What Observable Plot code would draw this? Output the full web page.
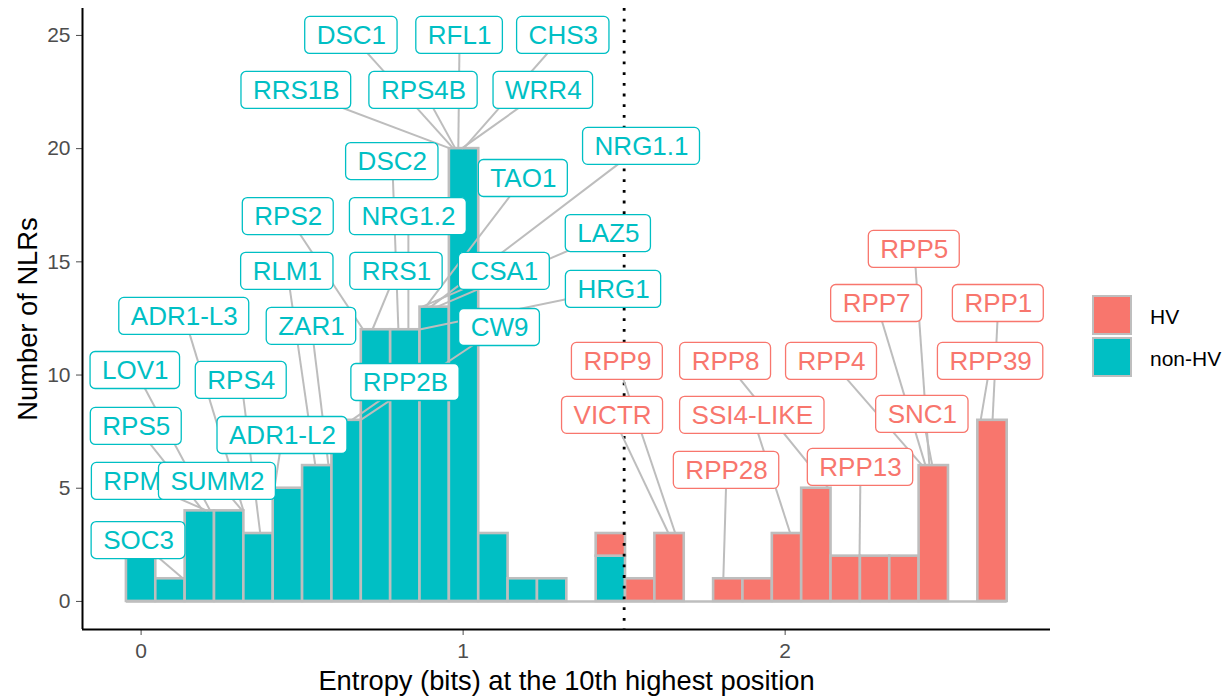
<!DOCTYPE html>
<html>
<head>
<meta charset="utf-8">
<script src="https://cdn.jsdelivr.net/npm/d3@7"></script>
<script src="https://cdn.jsdelivr.net/npm/@observablehq/plot@0.6"></script>
<style>
  body { margin: 0; background: #ffffff; }
  #wrap { position: relative; width: 1230px; height: 698px; font-family: "Liberation Sans", Arial, sans-serif; }
  .key { position: absolute; left: 1092px; width: 36px; height: 36px; border: 2.5px solid #bebebe; }
  .ktext { position: absolute; left: 1150px; font-size: 21px; line-height: 21px; color: #000; }
</style>
</head>
<body>
<div id="wrap"></div>
<script>
// ---------------- data ----------------
const groups = ["HV", "non-HV"];
const groupColors = ["#F8766D", "#00BFC4"];

const binStart = -0.0456;   // left edge of first histogram bin (bits)
const binWidth = 0.09117;   // histogram bin width (bits)
const nonHVCounts = [2, 1, 4, 4, 3, 5, 6, 8, 12, 12, 13, 20, 3, 1, 1, 0, 2, 0, 0, 0, 0, 0, 0, 0, 0, 0, 0, 0, 0, 0];
const hvCounts    = [0, 0, 0, 0, 0, 0, 0, 0, 0, 0, 0, 0, 0, 0, 0, 0, 1, 1, 3, 0, 1, 1, 3, 5, 2, 2, 2, 6, 0, 8];

const hvThreshold = 1.5;
const xTicks = [0, 1, 2];
const yTicks = [0, 5, 10, 15, 20, 25];

const geneNames = ["SOC3","RPM1","SUMM2","RPS5","LOV1","ADR1-L3","RPS4","ADR1-L2","ZAR1","RLM1","RPS2","RRS1","RPP2B","CW9","DSC2","NRG1.2","HRG1","CSA1","TAO1","NRG1.1","LAZ5","RRS1B","RPS4B","WRR4","DSC1","RFL1","CHS3",
  "VICTR","RPP9","RPP28","SSI4-LIKE","RPP8","RPP13","SNC1","RPP4","RPP7","RPP5","RPP39","RPP1"];
const geneGroup = ["non-HV","non-HV","non-HV","non-HV","non-HV","non-HV","non-HV","non-HV","non-HV","non-HV","non-HV","non-HV","non-HV","non-HV","non-HV","non-HV","non-HV","non-HV","non-HV","non-HV","non-HV","non-HV","non-HV","non-HV","non-HV","non-HV","non-HV",
  "HV","HV","HV","HV","HV","HV","HV","HV","HV","HV","HV","HV"];
// entropy of each gene and the bar height it points to
const geneEntropy = [0.131,0.206,0.315,0.193,0.215,0.318,0.370,0.414,0.582,0.541,0.690,0.718,0.653,0.680,0.799,0.830,0.861,0.870,0.883,0.898,0.917,0.961,0.976,0.995,0.970,0.985,1.001,
  1.638,1.659,1.808,2.016,2.134,2.231,2.457,2.426,2.436,2.448,2.607,2.644];
const genePointY = [1,4,4,4,4,4,3,5,6,6,12,12,8,8,12,12,12,13,13,13,13,20,20,20,20,20,20,
  3,3,1,3,5,2,6,6,6,6,8,8];
// repelled label positions (data units)
const labelX = [-0.008,-0.005,0.237,-0.015,-0.018,0.134,0.311,0.439,0.529,0.454,0.457,0.793,0.821,1.113,0.780,0.830,1.467,1.128,1.187,1.554,1.451,0.482,0.877,1.249,0.653,0.989,1.311,
  1.464,1.479,1.818,1.898,1.815,2.234,2.426,2.144,2.284,2.401,2.638,2.662];
const labelY = [2.69,5.30,5.30,7.73,10.20,12.59,9.76,7.33,12.15,14.58,17.0,14.58,9.67,12.10,19.43,17.0,13.78,14.58,18.68,20.10,16.25,22.57,22.57,22.57,25.0,25.0,25.0,
  8.22,10.6,5.79,8.22,10.6,5.92,8.26,10.6,13.16,15.55,10.6,13.16];

// ---------------- layout ----------------
const W = 1230, H = 698;
const mL = 82, mR = 180, mT = 8, mB = 69;
const xDomain = [-0.182, 2.824];
const yDomain = [-1.24, 26.19];
const pxPerX = (W - mL - mR) / (xDomain[1] - xDomain[0]);
const pxPerY = (H - mT - mB) / (yDomain[1] - yDomain[0]);
const labelFont = 26;
const titleFont = 27.3;
const fontFamily = "'Liberation Sans', Arial, sans-serif";

// histogram rectangles
const bars = [];
nonHVCounts.forEach((c, i) => {
  const x1 = binStart + i * binWidth, x2 = x1 + binWidth;
  if (c > 0) bars.push({x1, x2, y1: 0, y2: c, group: "non-HV"});
  if (hvCounts[i] > 0) bars.push({x1, x2, y1: c, y2: c + hvCounts[i], group: "HV"});
});
const baseline = [{y: 0, x1: binStart, x2: binStart + nonHVCounts.length * binWidth}];

// labels
const ctx = document.createElement("canvas").getContext("2d");
ctx.font = `${labelFont}px ${fontFamily}`;
const labels = geneNames.map((name, i) => {
  const tw = ctx.measureText(name).width;
  const hw = (tw / 2 + 11.5) / pxPerX;
  const hh = 18.5 / pxPerY;
  return {name, group: geneGroup[i], px: geneEntropy[i], py: genePointY[i],
          lx: labelX[i], ly: labelY[i], x1: labelX[i] - hw, x2: labelX[i] + hw, y1: labelY[i] - hh, y2: labelY[i] + hh};
});

const labelMarks = [];
labels.forEach(d => {
  labelMarks.push(Plot.rect([d], {x1: "x1", x2: "x2", y1: "y1", y2: "y2", fill: "white", stroke: "group", strokeWidth: 1.3, rx: 5}));
  labelMarks.push(Plot.text([d], {x: "lx", y: "ly", text: "name", fill: "group", fontSize: labelFont}));
});

const chart = Plot.plot({
  width: W, height: H,
  marginLeft: mL, marginRight: mR, marginTop: mT, marginBottom: mB,
  style: {fontFamily: "Liberation Sans, Arial, sans-serif", fontSize: "21px", color: "#4d4d4d", background: "white", overflow: "visible"},
  x: {domain: xDomain, ticks: xTicks, tickSize: 6, tickPadding: 8, label: null, tickFormat: d3.format("d")},
  y: {domain: yDomain, ticks: yTicks, tickSize: 6, tickPadding: 6, label: null, tickFormat: d3.format("d")},
  color: {domain: groups, range: groupColors},
  marks: [
    Plot.rect(bars, {x1: "x1", x2: "x2", y1: "y1", y2: "y2", fill: "group", stroke: "#bebebe", strokeWidth: 2.6}),
    Plot.ruleY(baseline, {y: "y", x1: "x1", x2: "x2", stroke: "#bebebe", strokeWidth: 2.6}),
    Plot.ruleX([xDomain[0]], {stroke: "#000", strokeWidth: 2}),
    Plot.ruleY([yDomain[0]], {stroke: "#000", strokeWidth: 2}),
    Plot.ruleX([hvThreshold], {stroke: "#000", strokeWidth: 2.8, strokeDasharray: "2.8,7.9"}),
    Plot.link(labels, {x1: "lx", y1: "ly", x2: "px", y2: "py", stroke: "#bdbdbd", strokeWidth: 2}),
    ...labelMarks,
    Plot.text(["Entropy (bits) at the 10th highest position"], {frameAnchor: "bottom", textAnchor: "middle", lineAnchor: "middle", dy: 52, fontSize: titleFont, fill: "#000"}),
    Plot.text(["Number of NLRs"], {frameAnchor: "left", textAnchor: "middle", lineAnchor: "middle", dx: -54, rotate: -90, fontSize: titleFont, fill: "#000"})
  ]
});

const wrap = document.getElementById("wrap");
wrap.appendChild(chart);

// legend
groups.forEach((g, i) => {
  const k = document.createElement("div");
  k.className = "key";
  k.style.top = (295 + i * 42) + "px";
  k.style.background = groupColors[i];
  wrap.appendChild(k);
  const t = document.createElement("div");
  t.className = "ktext";
  t.style.top = (306 + i * 42) + "px";
  t.textContent = g;
  wrap.appendChild(t);
});
</script>
</body>
</html>
